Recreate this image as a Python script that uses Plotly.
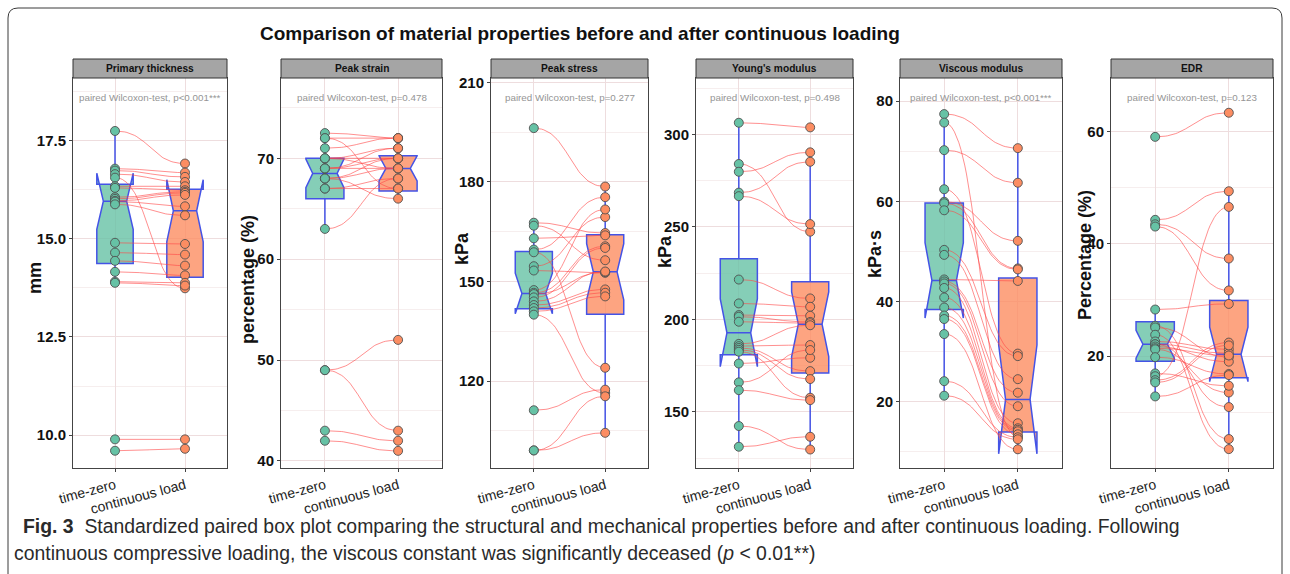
import numpy as np
import plotly.graph_objects as go

W, H = 1290, 574

# ---------------- data ----------------
groups = ["time-zero", "continuous load"]
panel_titles = ["Primary thickness", "Peak strain", "Peak stress",
                "Young's modulus", "Viscous modulus", "EDR"]
y_titles = ["mm", "percentage (%)", "kPa", "kPa", "kPa·s", "Percentage (%)"]
p_labels = ["paired Wilcoxon-test, p<0.001***", "paired Wilcoxon-test, p=0.478",
            "paired Wilcoxon-test, p=0.277", "paired Wilcoxon-test, p=0.498",
            "paired Wilcoxon-test, p<0.001***", "paired Wilcoxon-test, p=0.123"]

thick_t0 = [17.75, 16.79, 16.74, 16.65, 16.56, 16.34, 16.30, 16.06, 16.02, 15.97,
            15.95, 15.88, 14.90, 14.65, 14.44, 14.16, 13.91, 13.88, 9.89, 9.60]
thick_cl = [16.92, 16.69, 16.58, 16.45, 13.74, 16.34, 16.24, 16.20, 16.17, 16.12,
            15.83, 15.60, 14.87, 14.60, 14.32, 14.07, 13.88, 13.81, 9.89, 9.65]

strain_t0 = [72.5, 72, 72, 71, 70, 70, 70, 69, 69, 69,
             68, 68, 68, 67, 67, 63, 49, 49, 43, 42]
strain_cl = [72, 72, 67, 72, 71, 70, 69, 71, 70, 69,
             70, 69, 66, 68, 67, 68, 52, 43, 42, 41]

stress_t0 = [196.2, 167.7, 166.8, 163.0, 159.6, 158.8, 154.6, 153.3, 147.4, 146.6,
             146.2, 145.2, 144.0, 142.9, 142.0, 141.0, 140.0, 111.2, 99.1, 99.1]
stress_cl = [178.6, 164.6, 156.4, 163.9, 175.4, 124.0, 169.4, 152.6, 171.7, 160.6,
             152.8, 160.1, 153.0, 147.6, 146.6, 145.5, 116.4, 117.4, 115.4, 104.4]

young_t0 = [306.3, 284.0, 279.8, 268.5, 266.6, 221.5, 208.6, 202.3, 201.4, 198.7,
            186.7, 185.5, 184.5, 183.5, 182.5, 176.1, 165.9, 161.7, 142.3, 131.1]
young_cl = [303.8, 247.4, 290.3, 285.2, 251.5, 211.3, 206.8, 201.9, 198.6, 197.9,
            196.8, 186.1, 172.0, 167.7, 157.6, 179.2, 183.4, 156.3, 129.6, 136.5]

visc_t0 = [77.4, 75.7, 70.2, 62.4, 59.9, 59.6, 58.2, 50.3, 49.3, 44.4,
           44.0, 43.6, 42.7, 40.8, 38.8, 37.2, 36.5, 33.5, 24.1, 21.2]
visc_cl = [70.6, 13.0, 63.7, 29.6, 52.1, 46.6, 46.4, 29.1, 24.5, 44.1,
           21.8, 19.1, 15.7, 14.7, 14.4, 14.1, 13.5, 10.5, 12.9, 12.5]

edr_t0 = [59.1, 44.3, 43.5, 43.1, 28.3, 25.4, 25.1, 23.8, 22.6, 22.1,
          22.1, 21.7, 21.4, 21.2, 19.8, 16.9, 16.4, 15.7, 15.3, 12.8]
edr_cl = [63.4, 49.4, 37.4, 31.7, 29.3, 5.2, 19.8, 3.4, 21.2, 20.5,
          10.9, 19.0, 20.1, 13.5, 16.8, 14.7, 46.6, 22.4, 21.9, 16.6]

panels_t0 = [thick_t0, strain_t0, stress_t0, young_t0, visc_t0, edr_t0]
panels_cl = [thick_cl, strain_cl, stress_cl, young_cl, visc_cl, edr_cl]

# ---------------- layout geometry ----------------
panel_px = [(73, 227), (281, 442), (491, 648), (696, 853), (900, 1062), (1111, 1273)]
plot_top, plot_bot, strip_top = 78, 468, 59
y_ranges = [(9.16, 19.1), (39.3, 77.96), (93.8, 211.3), (119.6, 330.5), (6.77, 84.6), (0.03, 69.6)]
y_tick0 = [10, 40, 120, 150, 20, 20]
y_dtick = [2.5, 10, 30, 50, 20, 20]
y_fmt = [".1f", "d", "d", "d", "d", "d"]
ytitle_pos = [(35, 278), (248, 280), (462, 249), (665, 252), (875, 254), (1085, 255)]

FONT = "Liberation Sans, Arial, Helvetica, sans-serif"
GREEN, ORANGE = "#66C2A5", "#FC8D62"
BOXLINE = "#4453E6"
GRID_MAJ, GRID_MIN = "#EEDDDE", "#F6EEEE"


def px(x):
    return x / W


def py(y):
    return 1 - y / H


def bezier(y0, y1, x0=1.0, x1=2.0, n=40):
    t = np.linspace(0, 1, n)
    xm = (x0 + x1) / 2
    xs = (1 - t) ** 3 * x0 + 3 * (1 - t) ** 2 * t * xm + 3 * (1 - t) * t ** 2 * xm + t ** 3 * x1
    ys = (1 - t) ** 3 * y0 + 3 * (1 - t) ** 2 * t * y0 + 3 * (1 - t) * t ** 2 * y1 + t ** 3 * y1
    return xs, ys


def box_stats(vals):
    """ggplot2-style box statistics (R type-7 quantiles, 1.5*IQR whiskers)."""
    q1, med, q3 = np.percentile(vals, [25, 50, 75])
    iqr = q3 - q1
    lo = vals[vals >= q1 - 1.5 * iqr].min()
    hi = vals[vals <= q3 + 1.5 * iqr].max()
    notch = 1.58 * iqr / np.sqrt(len(vals))
    return q1, med, q3, lo, hi, notch


fig = go.Figure()
layout = dict(width=W, height=H, margin=dict(l=0, r=0, t=0, b=0, pad=0),
              paper_bgcolor="white", plot_bgcolor="white", showlegend=False,
              font=dict(family=FONT), autosize=False)
annotations, shapes = [], []

for i in range(6):
    k = "" if i == 0 else str(i + 1)
    xa, ya = "x" + k, "y" + k
    t0 = np.array(panels_t0[i], dtype=float)
    cl = np.array(panels_cl[i], dtype=float)

    for vals, pos, col in [(t0, 1, "rgba(102,194,165,0.8)"), (cl, 2, "rgba(252,141,98,0.8)")]:
        q1, med, q3, lo, hi, notch = box_stats(vals)
        fig.add_trace(go.Box(
            x=[pos], q1=[q1], median=[med], q3=[q3], lowerfence=[lo], upperfence=[hi],
            notchspan=[notch], xaxis=xa, yaxis=ya,
            width=0.52, notched=True, notchwidth=0.18,
            fillcolor=col, line=dict(color=BOXLINE, width=1.5),
            boxpoints=False, whiskerwidth=0, hoverinfo="skip"))

    lx, ly = [], []
    for a, b in zip(t0, cl):
        xs, ys = bezier(a, b)
        lx += list(xs) + [None]
        ly += list(ys) + [None]
    fig.add_trace(go.Scatter(x=lx, y=ly, mode="lines", xaxis=xa, yaxis=ya,
                             line=dict(color="rgba(255,70,70,0.6)", width=1),
                             hoverinfo="skip"))

    for vals, pos, col in [(t0, 1, GREEN), (cl, 2, ORANGE)]:
        fig.add_trace(go.Scatter(
            x=np.full(len(vals), pos), y=vals, mode="markers", xaxis=xa, yaxis=ya,
            marker=dict(size=9, color=col, line=dict(color="#505050", width=0.9))))

    x0p, x1p = panel_px[i]
    layout["xaxis" + k] = dict(
        domain=[px(x0p), px(x1p)], anchor=ya, range=[0.4, 2.6], automargin=False,
        tickvals=[1, 2], ticktext=groups, tickangle=-15,
        tickfont=dict(size=14, color="#222222", family=FONT),
        showgrid=True, gridcolor=GRID_MAJ, zeroline=False,
        showline=True, linecolor="#444444", mirror=True, linewidth=1,
        ticks="outside", ticklen=3, tickcolor="#444444")
    layout["yaxis" + k] = dict(
        domain=[py(plot_bot), py(plot_top)], anchor=xa, range=list(y_ranges[i]),
        automargin=False,
        tick0=y_tick0[i], dtick=y_dtick[i], tickformat=y_fmt[i],
        tickfont=dict(size=15, color="#111111", family=FONT, weight="bold"),
        showgrid=True, gridcolor=GRID_MAJ, zeroline=False,
        showline=True, linecolor="#444444", mirror=True, linewidth=1,
        ticks="outside", ticklen=3, tickcolor="#444444",
        minor=dict(tick0=y_tick0[i], dtick=y_dtick[i] / 2, showgrid=True,
                   gridcolor=GRID_MIN, ticks=""))

    # strip header
    shapes.append(dict(type="rect", xref="paper", yref="paper",
                       x0=px(x0p), x1=px(x1p), y0=py(plot_top), y1=py(strip_top),
                       fillcolor="#A5A5A5", line=dict(color="#333333", width=1)))
    annotations.append(dict(xref="paper", yref="paper", x=px((x0p + x1p) / 2),
                            y=py((plot_top + strip_top) / 2), text="<b>" + panel_titles[i] + "</b>",
                            showarrow=False, font=dict(size=10.2, color="#111111", family=FONT),
                            xanchor="center", yanchor="middle"))
    annotations.append(dict(xref="paper", yref="paper", x=px((x0p + x1p) / 2),
                            y=py(97), text=p_labels[i], showarrow=False,
                            font=dict(size=9.8, color="#959595", family=FONT),
                            xanchor="center", yanchor="middle"))
    tx, ty = ytitle_pos[i]
    annotations.append(dict(xref="paper", yref="paper", x=px(tx), y=py(ty),
                            text="<b>" + y_titles[i] + "</b>", textangle=-90, showarrow=False,
                            font=dict(size=18, color="#111111", family=FONT),
                            xanchor="center", yanchor="middle"))

# title
annotations.append(dict(xref="paper", yref="paper", x=px(580), y=py(34),
                        text="<b>Comparison of material properties before and after continuous loading</b>",
                        showarrow=False, font=dict(size=19, color="#111111", family=FONT),
                        xanchor="center", yanchor="middle"))
# caption
annotations.append(dict(xref="paper", yref="paper", x=px(21), y=py(526),
                        text="<b>Fig. 3</b>  Standardized paired box plot comparing the structural and mechanical "
                             "properties before and after continuous loading. Following",
                        showarrow=False, font=dict(size=19.4, color="#2a2a2a", family=FONT),
                        xanchor="left", yanchor="middle"))
annotations.append(dict(xref="paper", yref="paper", x=px(12), y=py(553),
                        text="continuous compressive loading, the viscous constant was significantly "
                             "deceased (<i>p</i> &lt; 0.01**)",
                        showarrow=False, font=dict(size=19.4, color="#2a2a2a", family=FONT),
                        xanchor="left", yanchor="middle"))

# outer rounded frame
r = 10
path = (f"M {px(8)},{py(574)} L {px(8)},{py(8 + r)} Q {px(8)},{py(8)} {px(8 + r)},{py(8)} "
        f"L {px(1282 - r)},{py(8)} Q {px(1282)},{py(8)} {px(1282)},{py(8 + r)} L {px(1282)},{py(574)}")
shapes.append(dict(type="path", xref="paper", yref="paper", path=path,
                   line=dict(color="#3a3a3a", width=1)))

layout["annotations"] = annotations
layout["shapes"] = shapes
fig.update_layout(**layout)
fig.write_html("out.html", config={"displayModeBar": False},
               post_script="document.body.style.margin='0';document.body.style.overflow='hidden';")
